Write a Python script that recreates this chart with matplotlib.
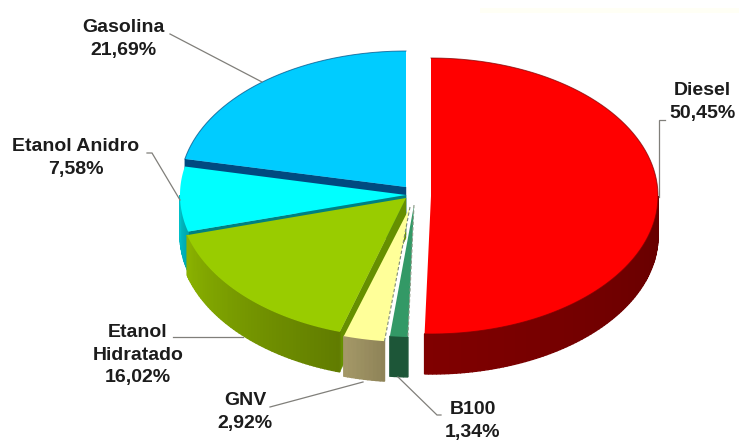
import numpy as np
import matplotlib
matplotlib.use("Agg")
import matplotlib.pyplot as plt
from matplotlib.colors import to_rgb
from matplotlib.patches import Polygon

# Share of each fuel, clockwise from twelve o'clock
fuels = ["Diesel", "B100", "GNV", "Etanol\nHidratado", "Etanol Anidro", "Gasolina"]
shares = [50.45, 1.34, 2.92, 16.02, 7.58, 21.69]

# Slice geometry in pixels: centre x, centre y, radius x, radius y
centre_x = [431, 414, 410, 406, 406, 406]
centre_y = [196, 205, 207, 198, 195, 187]
radius_x = [227, 215, 227, 227, 226, 226]
radius_y = [138, 132, 135, 140, 138, 136]
DEPTH = 40

top_colors = ["#ff0000", "#339966", "#ffff99", "#99cc00", "#00ffff", "#00ccff"]
wall_colors = ["#7a0000", "#1d5638", "#968a5a", "#668f00", "#008080", "#004a80"]
side_from = ["#660000", "#1d5638", "#8f8458", "#617c00", "#00a5ad", "#004a80"]
side_to = ["#800000", "#1d5638", "#a39767", "#8ab200", "#00c0c8", "#004a80"]

# Text centres and leader-line paths
label_xy = [(702, 102), (473, 421), (245, 412), (138, 355), (76, 158), (123, 39)]
leaders = [
    [(665, 120), (659, 120), (659, 197)],
    [(441, 415), (437, 415), (398, 377)],
    [(270, 407), (363, 382)],
    [(173, 337), (243, 337)],
    [(147, 153), (152, 153), (180, 200)],
    [(170, 34), (262, 82)],
]

fig = plt.figure(figsize=(7.39, 4.41), dpi=100)
ax = fig.add_axes([0, 0, 1, 1])
ax.set_xlim(0, 739)
ax.set_ylim(441, 0)
ax.axis("off")

# Faint band along the top edge
ax.fill_between([480, 739], 8, 13, color="#fffff5", lw=0, zorder=0)


def rim(i, angle):
    a = np.radians(angle)
    return (centre_x[i] + radius_x[i] * np.sin(a),
            centre_y[i] - radius_y[i] * np.cos(a))


edges = np.concatenate([[0], np.cumsum(shares)]) * 3.6

# Back slices first, so nearer slices overlap them
for order, i in enumerate([5, 0, 4, 3, 1, 2]):
    start, stop = edges[i], edges[i + 1]
    z = 2 + order
    apex = (centre_x[i], centre_y[i])

    # The leading cut face of the left-hand slices turns towards the viewer
    if i in (3, 4, 5):
        p = rim(i, start)
        ax.add_patch(Polygon([apex, p, (p[0], p[1] + DEPTH),
                              (apex[0], apex[1] + DEPTH)],
                             fc=wall_colors[i], ec=wall_colors[i], lw=0.3, zorder=z))

    # Outer wall: only the part of the rim on the front of the ellipse
    lo, hi = max(start, 90), min(stop, 270)
    if hi > lo:
        steps = np.linspace(lo, hi, max(int(hi - lo), 2) + 1)
        c0, c1 = np.array(to_rgb(side_from[i])), np.array(to_rgb(side_to[i]))
        for k in range(len(steps) - 1):
            p, q = rim(i, steps[k]), rim(i, steps[k + 1])
            t = k / max(len(steps) - 2, 1)
            col = tuple(c0 + (c1 - c0) * t)
            ax.add_patch(Polygon([p, q, (q[0], q[1] + DEPTH), (p[0], p[1] + DEPTH)],
                                 fc=col, ec=col, lw=1.0, zorder=z))

    # Top face
    arc = [rim(i, a) for a in np.linspace(start, stop, max(int(stop - start) * 2, 8))]
    ax.add_patch(Polygon([apex] + arc, fc=top_colors[i], ec="none", zorder=z + 0.2))
    if i in (0, 5):
        ax.plot(*zip(*arc), color=wall_colors[i], lw=0.7, alpha=0.7, zorder=z + 0.3)
    # Dashed seams around the two narrow slices
    if i == 1:
        ax.plot([apex[0], arc[0][0]], [apex[1], arc[0][1]],
                color="#8f9a88", lw=0.8, ls=(0, (3, 2)), zorder=z + 0.3)
    if i == 2:
        ax.plot([apex[0], arc[0][0]], [apex[1], arc[0][1]],
                color="#7d8a78", lw=0.8, ls=(0, (3, 2)), zorder=z + 0.3)

for path in leaders:
    ax.plot(*zip(*path), color="#807f7a", lw=0.9, zorder=20, solid_joinstyle="miter")

for name, share, (x, y) in zip(fuels, shares, label_xy):
    pct = f"{share:.2f}".replace(".", ",") + "%"
    ax.text(x, y, f"{name}\n{pct}", ha="center", va="center", multialignment="center",
            family="Liberation Sans", weight="bold", fontsize=14, color="#1c1c1c",
            linespacing=1.4, zorder=21)

fig.savefig("out.png", dpi=100)
